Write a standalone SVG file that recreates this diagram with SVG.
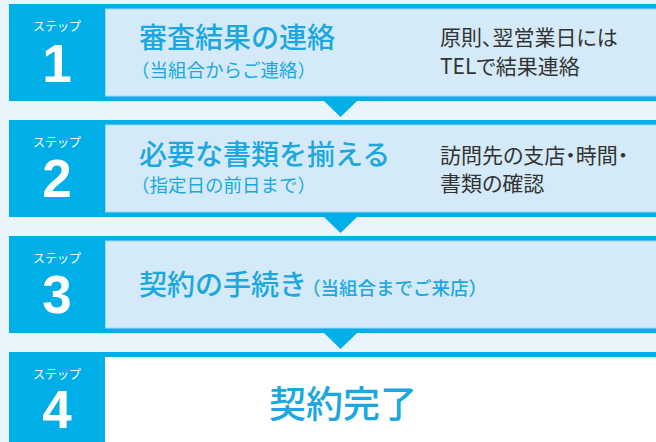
<svg xmlns="http://www.w3.org/2000/svg" width="656" height="442" viewBox="0 0 656 442">
<style>
.bg{fill:#e9f4fb}
.badge{fill:#00afe8}
.bar{fill:#00afe8}
.panel{fill:#d4eaf8}
.lbl{font-family:"Noto Sans CJK JP","Noto Sans",sans-serif;font-size:12px;fill:#ffffff;text-anchor:middle}
.num{font-family:"Liberation Sans","Noto Sans",sans-serif;font-size:53px;font-weight:700;fill:#ffffff;text-anchor:middle}
.title{font-family:"Noto Sans CJK JP",sans-serif;font-size:28px;font-weight:500;fill:#1ba8e0}
.sub{font-family:"Noto Sans CJK JP",sans-serif;font-size:18.5px;fill:#1ba8e0}
.note{font-family:"Noto Sans CJK JP",sans-serif;font-size:21px;fill:#333333;font-feature-settings:"palt"}
.big{font-family:"Noto Sans CJK JP",sans-serif;font-size:37px;font-weight:500;fill:#1ba8e0}
.arrow{fill:#00afe8}
</style>
<rect class="bg" x="0" y="0" width="656" height="442"/>

<g id="step1">
<rect class="bar" x="105" y="4" width="551" height="97"/>
<rect class="panel" x="105.5" y="9" width="551" height="87" stroke="#9ed6f2" stroke-width="1"/>
<rect class="badge" x="9" y="4" width="96" height="97"/>
<text class="lbl" x="57" y="31">ステップ</text>
<text class="num" x="57" y="82">1</text>
<text class="title" x="139" y="48">審査結果の連絡</text>
<text class="sub" x="131" y="77">（当組合からご連絡）</text>
<text class="note" x="440" y="45">原則、翌営業日には</text>
<text class="note" x="440" y="74">TELで結果連絡</text>
</g>

<g id="step2">
<rect class="bar" x="105" y="120" width="551" height="97"/>
<rect class="panel" x="105.5" y="125" width="551" height="87" stroke="#9ed6f2" stroke-width="1"/>
<rect class="badge" x="9" y="120" width="96" height="97"/>
<text class="lbl" x="57" y="147">ステップ</text>
<text class="num" x="57" y="197">2</text>
<text class="title" x="139" y="165" font-size="27.2px">必要な書類を揃える</text>
<text class="sub" x="131" y="192">（指定日の前日まで）</text>
<text class="note" x="440" y="163">訪問先の支店・時間・</text>
<text class="note" x="440" y="191">書類の確認</text>
</g>

<g id="step3">
<rect class="bar" x="105" y="236" width="551" height="97"/>
<rect class="panel" x="105.5" y="241" width="551" height="87" stroke="#9ed6f2" stroke-width="1"/>
<rect class="badge" x="9" y="236" width="96" height="97"/>
<text class="lbl" x="57" y="263">ステップ</text>
<text class="num" x="57" y="313">3</text>
<text class="title" x="139" y="295">契約の手続き<tspan class="sub" font-size="18px" dx="-5">（当組合までご来店）</tspan></text>
</g>

<g id="step4">
<rect class="bar" x="105" y="352" width="551" height="90"/>
<rect x="105" y="357" width="551" height="85" fill="#ffffff"/>
<rect class="badge" x="9" y="352" width="96" height="90"/>
<text class="lbl" x="57" y="379">ステップ</text>
<text class="num" x="57" y="428">4</text>
<text class="big" x="269" y="418">契約完了</text>
</g>

<g id="connectors">
<polygon class="arrow" points="323,100 358,100 340.5,117"/>
<polygon class="arrow" points="323,216 358,216 340.5,233"/>
<polygon class="arrow" points="323,332 358,332 340.5,349"/>
</g>
</svg>
